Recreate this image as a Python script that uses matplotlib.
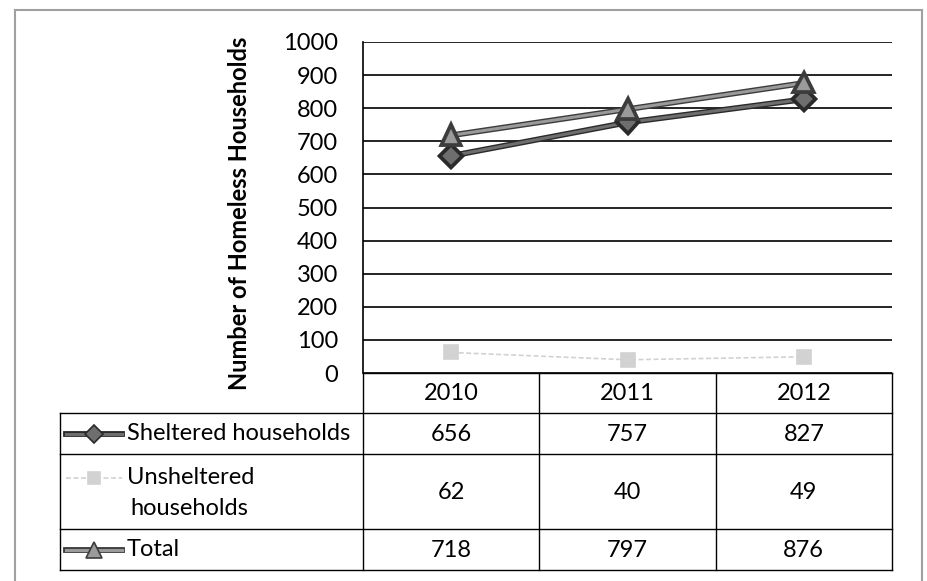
import matplotlib.pyplot as plt
import matplotlib.patheffects as pe
from matplotlib.transforms import blended_transform_factory

plt.rcParams['font.family'] = ['Lato', 'DejaVu Sans']

# data
years = ['2010', '2011', '2012']
sheltered = [656, 757, 827]
unsheltered = [62, 40, 49]
total = [718, 797, 876]
series_names = ['Sheltered households', 'Unsheltered\nhouseholds', 'Total']
yticks = list(range(0, 1001, 100))

FS = 17
W, H = 927, 581
fig = plt.figure(figsize=(W / 100, H / 100), dpi=100)

# plot area in pixel terms
px_left, px_right, px_top, px_bottom = 363, 892, 42, 373
ax = fig.add_axes([px_left / W, 1 - px_bottom / H,
                   (px_right - px_left) / W, (px_bottom - px_top) / H])

x = list(range(len(years)))
styles = [
    dict(data=sheltered, color='#6e6e6e', edge='#2a2a2a', marker='D', ms=10, ls='-'),
    dict(data=unsheltered, color='#d2d2d2', edge='#d2d2d2', marker='s', ms=10, ls=(0, (3, 1.5))),
    dict(data=total, color='#9a9a9a', edge='#3c3c3c', marker='^', ms=12, ls='-'),
]
for st in styles:
    lw = 2.2 if st['ls'] == '-' else 1.2
    ax.plot(x, st['data'], color=st['color'], lw=lw, ls=st['ls'],
            marker=st['marker'], ms=st['ms'], mfc=st['color'], mec=st['edge'], mew=1.2,
            path_effects=[pe.Stroke(linewidth=lw + 2, foreground=st['edge']), pe.Normal()]
            if st['ls'] == '-' else None, zorder=3)

ax.set_xlim(-0.5, len(years) - 0.5)
ax.set_ylim(0, 1000)
ax.set_yticks(yticks)
ax.set_yticklabels([str(v) for v in yticks], fontsize=FS)
ax.tick_params(axis='y', length=0, pad=18)
ax.set_xticks([])
ax.grid(axis='y', color='black', lw=1.2)
for s in ['top', 'right', 'bottom']:
    ax.spines[s].set_visible(False)
ax.spines['left'].set_linewidth(1.2)
ax.set_axisbelow(True)

# overlay in pixel coordinates for the data table and frame
ov = fig.add_axes([0, 0, 1, 1], zorder=5)
ov.set_xlim(0, W)
ov.set_ylim(H, 0)
ov.axis('off')
ov.patch.set_alpha(0)

ov.text(240, 213, 'Number of Homeless Households', rotation=90, fontsize=FS,
        fontweight='bold', ha='center', va='center')

# table geometry
tab_left = 60
rows = [373, 413, 454, 529, 570]
lk = dict(color='black', lw=1.0)
ov.plot([px_left, px_right], [rows[0]] * 2, **lk)
for r in rows[1:]:
    ov.plot([tab_left, px_right], [r] * 2, **lk)
ov.plot([tab_left, tab_left], [rows[1], rows[-1]], **lk)
bounds = [px_left + i * (px_right - px_left) / len(years) for i in range(len(years) + 1)]
for b in bounds:
    ov.plot([b, b], [rows[0], rows[-1]], **lk)

tr = blended_transform_factory(ax.transData, ov.transData)
for i, yr in enumerate(years):
    ov.text(i, (rows[0] + rows[1]) / 2 + 1, yr, transform=tr, ha='center', va='center', fontsize=FS)
for j, st in enumerate(styles):
    ymid = (rows[j + 1] + rows[j + 2]) / 2
    for i, v in enumerate(st['data']):
        ov.text(i, ymid + 1, str(v), transform=tr, ha='center', va='center', fontsize=FS)
    # legend key
    ky = ymid if j != 1 else ymid - 14
    lw = 2.2 if st['ls'] == '-' else 1.2
    ov.plot([66, 122], [ky, ky], color=st['color'], lw=lw, ls=st['ls'],
            path_effects=[pe.Stroke(linewidth=lw + 2, foreground=st['edge']), pe.Normal()]
            if st['ls'] == '-' else None)
    ov.plot([94], [ky], marker=st['marker'], ms=st['ms'] - 1, color=st['color'],
            mec=st['edge'], mew=1.2)
    if j == 1:
        ov.text(127, ky, 'Unsheltered', ha='left', va='center', fontsize=FS)
        ov.text(130, ky + 31, 'households', ha='left', va='center', fontsize=FS)
    else:
        ov.text(127, ky, series_names[j], ha='left', va='center', fontsize=FS)

# scanned page frame
fk = dict(color='#a0a0a0', lw=1.5)
ov.plot([15, 15], [10, H], **fk)
ov.plot([15, 922], [10, 10], **fk)
ov.plot([922, 922], [10, H], **fk)

fig.savefig('out.png', dpi=100)
